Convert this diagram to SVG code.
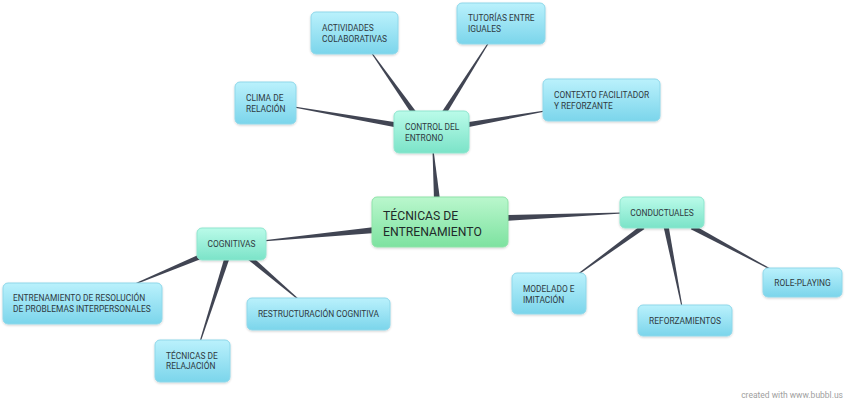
<svg xmlns="http://www.w3.org/2000/svg" width="848" height="405" viewBox="0 0 848 405">
<defs>
<linearGradient id="gBlue" x1="0" y1="0" x2="0" y2="1"><stop offset="0" stop-color="#baf1fc"/><stop offset="1" stop-color="#7bd5eb"/></linearGradient>
<linearGradient id="gTeal" x1="0" y1="0" x2="0" y2="1"><stop offset="0" stop-color="#bafbe9"/><stop offset="1" stop-color="#7be3c8"/></linearGradient>
<linearGradient id="gGreen" x1="0" y1="0" x2="0" y2="1"><stop offset="0" stop-color="#baf7cd"/><stop offset="1" stop-color="#7de2a0"/></linearGradient>
<filter id="sh" x="-10%" y="-10%" width="120%" height="130%"><feDropShadow dx="0" dy="1" stdDeviation="1" flood-color="#000" flood-opacity="0.18"/></filter>
</defs>
<style>
.blue{fill:url(#gBlue);stroke:#8fd8ea;stroke-width:1;filter:url(#sh)}
.teal{fill:url(#gTeal);stroke:#8fe6cf;stroke-width:1;filter:url(#sh)}
.green{fill:url(#gGreen);stroke:#8fe3a9;stroke-width:1;filter:url(#sh)}
text{font-family:Roboto,"Liberation Sans",sans-serif;font-size:8.4px;fill:#2f3a3f}
.c{text-anchor:middle}
.big{font-size:12.2px;fill:#1f2a2a}
.conn polygon{fill:#414553}
.wm{font-size:8.5px;fill:#a0a0a0}
</style>
<rect width="848" height="405" fill="#ffffff"/>
<g id="connectors" class="conn">
<polygon points="440,199.8 433.5,150 432.5,150 434,200.2"/>
<polygon points="374.7,227 262,240.5 262,241.5 375.3,233"/>
<polygon points="504.9,215 622,212.5 622,213.5 505.1,221"/>
<polygon points="397.4,122.5 294.1,106.5 293.9,107.5 396.6,127.5"/>
<polygon points="416,111.6 371.4,51.7 370.6,52.3 412,114.4"/>
<polygon points="441.9,111.7 488.6,41.7 489.4,42.3 446.1,114.3"/>
<polygon points="465.6,122.5 544.9,110.5 545.1,111.5 466.4,127.5"/>
<polygon points="201,253.7 134.8,283.5 135.2,284.5 203,258.3"/>
<polygon points="224.6,257.2 199.5,341.8 200.5,342.2 229.4,258.8"/>
<polygon points="251.6,256.1 298.3,298.6 297.7,299.4 248.4,259.9"/>
<polygon points="641.5,225 576.7,274.6 577.3,275.4 644.5,229"/>
<polygon points="663.5,226.5 681.5,307.1 682.5,306.9 668.5,225.5"/>
<polygon points="693.2,224.8 772.2,269.6 771.8,270.4 690.8,229.2"/>
</g>
<g id="main"><rect class="green" x="372" y="197" width="136" height="50" rx="5"/><text class="big" x="383" y="220">TÉCNICAS DE</text><text class="big" x="383" y="236">ENTRENAMIENTO</text></g>
<g id="control"><rect class="teal" x="394" y="111" width="75" height="42" rx="5"/><text x="405" y="130">CONTROL DEL</text><text x="405" y="141">ENTRONO</text></g>
<g id="clima"><rect class="blue" x="235" y="82" width="61" height="42" rx="5"/><text x="246" y="101">CLIMA DE</text><text x="246" y="112">RELACIÓN</text></g>
<g id="actividades"><rect class="blue" x="311" y="12" width="87" height="42" rx="5"/><text x="322" y="31">ACTIVIDADES</text><text x="322" y="42">COLABORATIVAS</text></g>
<g id="tutorias"><rect class="blue" x="457" y="3" width="88" height="41" rx="5"/><text x="468" y="21">TUTORÍAS ENTRE</text><text x="468" y="32">IGUALES</text></g>
<g id="contexto"><rect class="blue" x="543" y="79" width="117" height="42" rx="5"/><text x="554" y="98">CONTEXTO FACILITADOR</text><text x="554" y="109"> Y REFORZANTE</text></g>
<g id="cognitivas"><rect class="teal" x="197" y="228" width="69" height="32" rx="5"/><text class="c" x="231.5" y="247">COGNITIVAS</text></g>
<g id="entrenamiento"><rect class="blue" x="3" y="283" width="159" height="41" rx="5"/><text x="13" y="301">ENTRENAMIENTO DE RESOLUCIÓN</text><text x="13" y="312">DE PROBLEMAS INTERPERSONALES</text></g>
<g id="relajacion"><rect class="blue" x="155" y="340" width="75" height="42" rx="5"/><text x="166" y="359">TÉCNICAS DE</text><text x="166" y="369">RELAJACIÓN</text></g>
<g id="restructuracion"><rect class="blue" x="247" y="298" width="143" height="32" rx="5"/><text class="c" x="318.5" y="317">RESTRUCTURACIÓN COGNITIVA</text></g>
<g id="conductuales"><rect class="teal" x="620" y="197" width="84" height="31" rx="5"/><text class="c" x="662" y="216">CONDUCTUALES</text></g>
<g id="modelado"><rect class="blue" x="512" y="273" width="74" height="41" rx="5"/><text x="523" y="292">MODELADO E</text><text x="523" y="303">IMITACIÓN</text></g>
<g id="reforzamientos"><rect class="blue" x="638" y="305" width="94" height="31" rx="5"/><text class="c" x="685" y="324">REFORZAMIENTOS</text></g>
<g id="roleplaying"><rect class="blue" x="763" y="268" width="79" height="29" rx="5"/><text class="c" x="802.5" y="286">ROLE-PLAYING</text></g>
<text class="wm" x="843" y="398" text-anchor="end">created with www.bubbl.us</text>
</svg>
